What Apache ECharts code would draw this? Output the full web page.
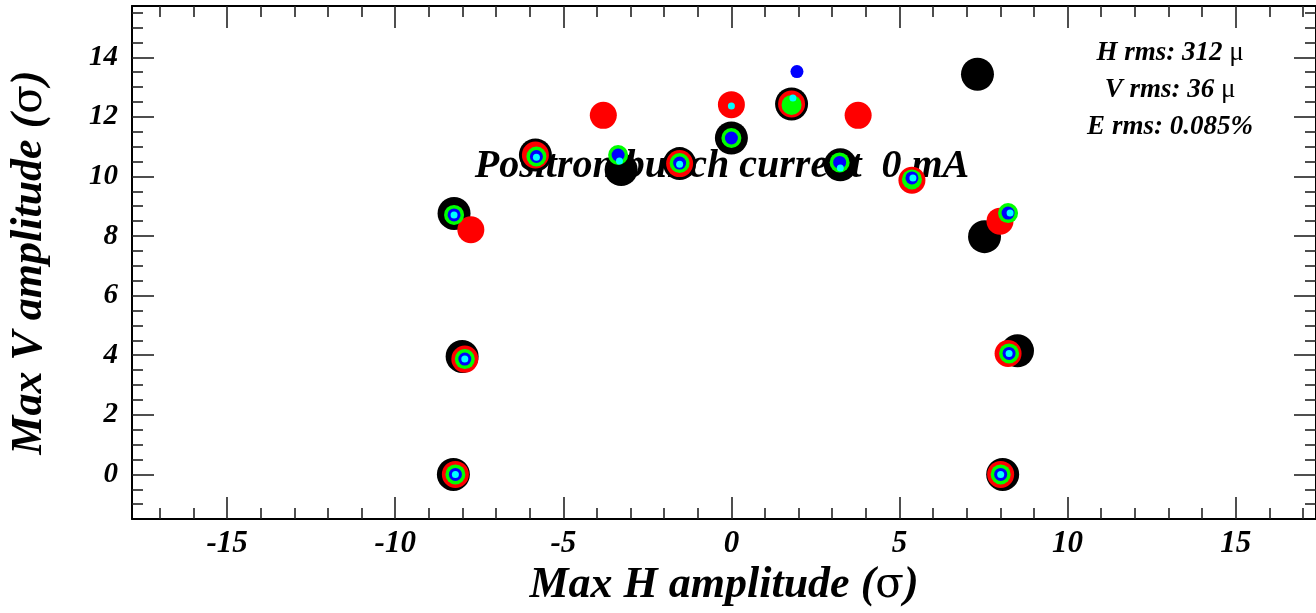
<!DOCTYPE html>
<html><head><meta charset="utf-8">
<script src="https://cdn.jsdelivr.net/npm/echarts@6/dist/echarts.min.js"></script>
<style>html,body{margin:0;padding:0;background:#fff}#c{width:1316px;height:613px}</style>
</head><body><div id="c"></div>
<script>
// ---- data (sigma units) ----
const blackX = [-8.27, 8.07, -8.01, 8.51, -8.25, 7.53, -5.83, -3.28, -1.54, 0.00, 1.79, 3.24, 7.32];
const blackY = [0.00, 0.00, 3.96, 4.15, 8.76, 7.98, 10.72, 10.23, 10.43, 11.29, 12.43, 10.39, 13.43];
const redX   = [-8.21, 8.01, -7.93, 8.23, -7.75, 7.99, -5.83, -3.81, -1.54, 0.00, 1.79, 3.77, 5.37];
const redY   = [0.00, 0.00, 3.87, 4.06, 8.21, 8.50, 10.72, 12.05, 10.43, 12.41, 12.43, 12.05, 9.87];
const greenX = [-8.21, 8.01, -7.93, 8.26, -8.25, 8.23, -5.80, -3.37, -1.54, 0.00, 1.79, 3.22, 5.37];
const greenY = [0.00, 0.00, 3.87, 4.06, 8.71, 8.77, 10.67, 10.72, 10.45, 11.29, 12.40, 10.47, 9.90];
const blueX  = [-8.21, 8.01, -7.93, 8.26, -8.25, 8.23, -5.80, -3.37, -1.54, 0.00, 1.95, 3.22, 5.37];
const blueY  = [0.00, 0.00, 3.87, 4.06, 8.71, 8.77, 10.67, 10.72, 10.45, 11.29, 13.52, 10.47, 9.95];
const cyanX  = [-8.21, 8.01, -7.93, 8.26, -8.25, 8.29, -5.80, -3.33, -1.54, 0.00, 1.83, 3.24, 5.40];
const cyanY  = [0.00, 0.00, 3.87, 4.06, 8.71, 8.77, 10.64, 10.52, 10.41, 12.36, 12.63, 10.28, 9.95];

const xMajorTicks = [-15, -10, -5, 0, 5, 10, 15];
const xMinorTicks = [-17, -16, -14, -13, -12, -11, -9, -8, -7, -6, -4, -3, -2, -1, 1, 2, 3, 4, 6, 7, 8, 9, 11, 12, 13, 14, 16, 17];
const yMajorTicks = [0, 2, 4, 6, 8, 10, 12, 14];
const yMinorTicks = [-1, -0.5, 0.5, 1, 1.5, 2.5, 3, 3.5, 4.5, 5, 5.5, 6.5, 7, 7.5, 8.5, 9, 9.5, 10.5, 11, 11.5, 12.5, 13, 13.5, 14.5, 15, 15.5];

const xTitle = ['Max H amplitude (', 'σ', ')'];
const yTitle = ['Max V amplitude (', 'σ', ')'];
const mainText = 'Positron bunch current  0 mA';
const statLines = [['H rms: 312 ', 'μ'], ['V rms: 36 ', 'μ'], ['E rms: 0.085%', '']];

const X_MIN = -17.83, X_MAX = 17.39, Y_MIN = -1.5, Y_MAX = 15.72;
const FF = '"Liberation Serif", "Times New Roman", serif';

function pairs(xs, ys) { return xs.map((x, i) => [x, ys[i]]); }

const titleRich = {
  t: { fontFamily: FF, fontStyle: 'italic', fontWeight: 'bold', fontSize: 44, color: '#000' },
  s: { fontFamily: '"DejaVu Serif", ' + FF, fontStyle: 'normal', fontWeight: 'normal', fontSize: 42, color: '#000' }
};
function richTitle(parts) { return '{t|' + parts[0] + '}{s|' + parts[1] + '}{t|' + parts[2] + '}'; }

function mkAxis(kind, position, major, withLine, withLabels, extra) {
  const isX = kind === 'x';
  const ax = {
    type: 'value', position: position,
    min: isX ? X_MIN : Y_MIN, max: isX ? X_MAX : Y_MAX,
    splitLine: { show: false },
    axisLine: { show: withLine, onZero: false, lineStyle: { color: '#000', width: 2 } },
    axisTick: {
      show: true, inside: true, length: major ? 22 : 11,
      customValues: isX ? (major ? xMajorTicks : xMinorTicks) : (major ? yMajorTicks : yMinorTicks),
      lineStyle: { color: '#222', width: 1.6 }
    },
    axisLabel: { show: false }
  };
  if (withLabels) {
    ax.axisLabel = {
      show: true,
      customValues: isX ? xMajorTicks : yMajorTicks,
      fontFamily: FF, fontStyle: 'italic', fontWeight: 'bold',
      fontSize: isX ? 31 : 29, color: '#000',
      margin: isX ? 9 : 14
    };
  }
  return Object.assign(ax, extra || {});
}

const xAxes = [
  mkAxis('x', 'bottom', true, true, true, {
    name: richTitle(xTitle), nameLocation: 'middle', nameGap: 36,
    nameTextStyle: { fontFamily: FF, fontStyle: 'italic', fontWeight: 'bold', fontSize: 44, color: '#000', rich: titleRich }
  }),
  mkAxis('x', 'bottom', false, false, false),
  mkAxis('x', 'top', true, true, false),
  mkAxis('x', 'top', false, false, false)
];
const yAxes = [
  mkAxis('y', 'left', true, true, true, {
    name: richTitle(yTitle), nameLocation: 'middle', nameGap: 80,
    nameTextStyle: { fontFamily: FF, fontStyle: 'italic', fontWeight: 'bold', fontSize: 44, color: '#000', rich: titleRich }
  }),
  mkAxis('y', 'left', false, false, false),
  mkAxis('y', 'right', true, true, false),
  mkAxis('y', 'right', false, false, false)
];

function sc(name, xs, ys, color, size) {
  return {
    name: name, type: 'scatter', xAxisIndex: 0, yAxisIndex: 0,
    data: pairs(xs, ys), symbol: 'circle', symbolSize: size,
    itemStyle: { color: color, opacity: 1 },
    emphasis: { disabled: true }, z: 3
  };
}

const statGraphics = statLines.map((ln, i) => ({
  type: 'text', x: 1170, y: 53 + i * 37, z: 1,
  style: {
    text: '{a|' + ln[0] + '}' + (ln[1] ? '{b|' + ln[1] + '}' : ''),
    align: 'center', verticalAlign: 'middle',
    textAlign: 'center', textVerticalAlign: 'middle',
    rich: {
      a: { fontFamily: FF, fontStyle: 'italic', fontWeight: 'bold', fontSize: 27, fill: '#000', color: '#000' },
      b: { fontFamily: FF, fontStyle: 'normal', fontWeight: 'normal', fontSize: 27, fill: '#000', color: '#000' }
    }
  }
}));

const chart = echarts.init(document.getElementById('c'), null, { renderer: 'canvas' });
chart.setOption({
  animation: false,
  backgroundColor: '#fff',
  grid: { left: 130, right: 0, top: 6, bottom: 88, containLabel: false },
  xAxis: xAxes,
  yAxis: yAxes,
  graphic: [
    {
      type: 'text', x: 722, y: 167, z: 1,
      style: {
        text: mainText, align: 'center', verticalAlign: 'middle',
        textAlign: 'center', textVerticalAlign: 'middle',
        font: 'italic bold 40px ' + FF, fill: '#000'
      }
    }
  ].concat(statGraphics),
  series: [
    sc('black', blackX, blackY, '#000000', 33),
    sc('red', redX, redY, '#ff0000', 27),
    sc('green', greenX, greenY, '#00ff00', 20),
    sc('blue', blueX, blueY, '#0000ff', 13),
    sc('cyan', cyanX, cyanY, '#00ffff', 7)
  ]
});
</script></body></html>
